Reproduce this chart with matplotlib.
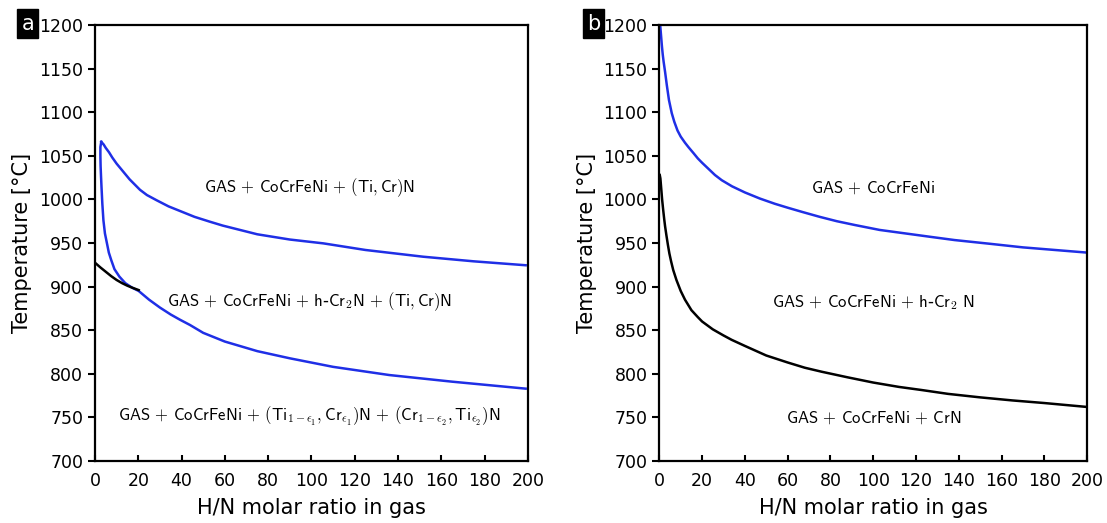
import matplotlib
matplotlib.use("Agg")
import matplotlib.pyplot as plt

plt.rcParams["mathtext.fontset"] = "cm"

# panel a: H/N ratio vs temperature boundaries
a_upper_x = [2.9, 4, 5, 6.5, 8, 10, 12, 14, 16, 18, 20.8, 24, 28.5, 34, 40, 46, 53, 59, 67, 75, 90, 105.5, 125, 151.6, 175, 199]
a_upper_t = [1066, 1063, 1059, 1054, 1048, 1041, 1035, 1029, 1023, 1018, 1011, 1005, 999, 992, 986, 980, 974.5, 970, 965, 960, 954, 949.6, 942, 934.3, 929, 924.5]
a_lower_x = [2.9, 2.5, 2.5, 2.6, 2.8, 3.0, 3.4, 3.9, 4.6, 5.5, 6.4, 7.5, 9, 11.3, 14, 17, 20.2, 25, 30, 35, 39.3, 43.9, 50, 60, 75, 90, 110, 136, 165, 199]
a_lower_t = [1066, 1060, 1050, 1038, 1026, 1015, 995, 976, 961, 950, 939, 930.5, 920, 911.4, 904, 899, 895, 885, 876, 868, 862, 856, 847, 837, 826, 817.8, 808, 798.6, 791, 783]
a_black_x = [0, 2.5, 5, 7.5, 10, 12.5, 15, 17.5, 20.2]
a_black_t = [927.4, 922, 917, 912, 907.6, 904, 901, 898.5, 896]

# panel b
b_blue_x = [0.4, 0.8, 1.2, 1.6, 2, 2.7, 3.5, 4.5, 5.8, 7, 8.5, 10, 12, 13.6, 16, 18, 20, 23, 26, 29.2, 34, 40, 47, 54, 60, 67, 75, 83, 91.5, 103, 115, 127, 138, 155, 170, 185, 200]
b_blue_t = [1200, 1188, 1176, 1166, 1158, 1146, 1131, 1114, 1099, 1089, 1079, 1072, 1065, 1060, 1053, 1047, 1042, 1035, 1028, 1022, 1015, 1008, 1001, 995, 990.5, 985.5, 980, 975, 970.6, 965, 961, 957, 953.4, 949, 945, 942, 939]
b_black_x = [0.2, 0.5, 0.9, 1.3, 1.8, 2.3, 2.7, 3.3, 4, 4.7, 5.5, 6.5, 8, 10, 12, 15, 18, 20, 25, 30, 33.8, 40, 50, 60, 68, 75.9, 88, 100, 112, 122.7, 135, 150, 165, 180, 200]
b_black_t = [1028, 1024, 1012, 1000, 988, 977, 969, 959, 948, 938, 929, 919, 907.6, 895, 885, 873, 865, 860, 851, 844, 839, 832, 821, 813, 807, 802.4, 796, 790, 785, 781.4, 777, 773, 769.5, 766.5, 762]

P = r"\,+\,"
a_labels = [
    (99, 1014, r"$\mathsf{GAS" + P + r"CoCrFeNi" + P + r"(Ti,Cr)N}$"),
    (99, 883, r"$\mathsf{GAS" + P + r"CoCrFeNi" + P + r"h}$-$\mathsf{Cr_2N" + P + r"(Ti,Cr)N}$"),
    (99, 751, r"$\mathsf{GAS" + P + r"CoCrFeNi" + P + r"(Ti_{1-\epsilon_1},Cr_{\epsilon_1})N" + P
     + r"(Cr_{1-\epsilon_2},Ti_{\epsilon_2})N}$"),
]
b_labels = [
    (100, 1013, r"$\mathsf{GAS" + P + r"CoCrFeNi}$"),
    (100, 882, r"$\mathsf{GAS" + P + r"CoCrFeNi" + P + r"h}$-$\mathsf{Cr_2\ N}$"),
    (100, 750, r"$\mathsf{GAS" + P + r"CoCrFeNi" + P + r"CrN}$"),
]

xticks = list(range(0, 201, 20))
yticks = list(range(700, 1201, 50))

blue = "#1f2fe6"

fig = plt.figure(figsize=(11.07, 5.23), dpi=100)
ax_a = fig.add_axes([0.0858, 0.1185, 0.391, 0.8337])
ax_b = fig.add_axes([0.5956, 0.1185, 0.3864, 0.8337])


def style(ax, tag, tag_x):
    ax.set_xlim(0, 200)
    ax.set_ylim(700, 1200)
    ax.set_xticks(xticks)
    ax.set_yticks(yticks)
    ax.tick_params(axis="x", direction="in", length=4, width=1.5, labelsize=12.5, pad=8)
    ax.tick_params(axis="y", direction="out", length=5, width=1.5, labelsize=12.5)
    for s in ax.spines.values():
        s.set_linewidth(1.6)
    ax.set_xlabel("H/N molar ratio in gas", fontsize=15, labelpad=6)
    ax.set_ylabel("Temperature [°C]", fontsize=15, labelpad=5)
    fig.text(tag_x, 0.955, tag, color="white", fontsize=15, ha="center", va="center",
             bbox=dict(boxstyle="square,pad=0.2", fc="black", ec="black"))


ax_a.plot(a_upper_x, a_upper_t, color=blue, lw=1.8)
ax_a.plot(a_lower_x, a_lower_t, color=blue, lw=1.8)
ax_a.plot(a_black_x, a_black_t, color="black", lw=1.8)
for x, t, s in a_labels:
    ax_a.text(x, t, s, ha="center", va="center", fontsize=12)
style(ax_a, "a", 0.0252)

ax_b.plot(b_blue_x, b_blue_t, color=blue, lw=1.8)
ax_b.plot(b_black_x, b_black_t, color="black", lw=1.8)
for x, t, s in b_labels:
    ax_b.text(x, t, s, ha="center", va="center", fontsize=12)
style(ax_b, "b", 0.536)

fig.savefig("out.png", dpi=100)
